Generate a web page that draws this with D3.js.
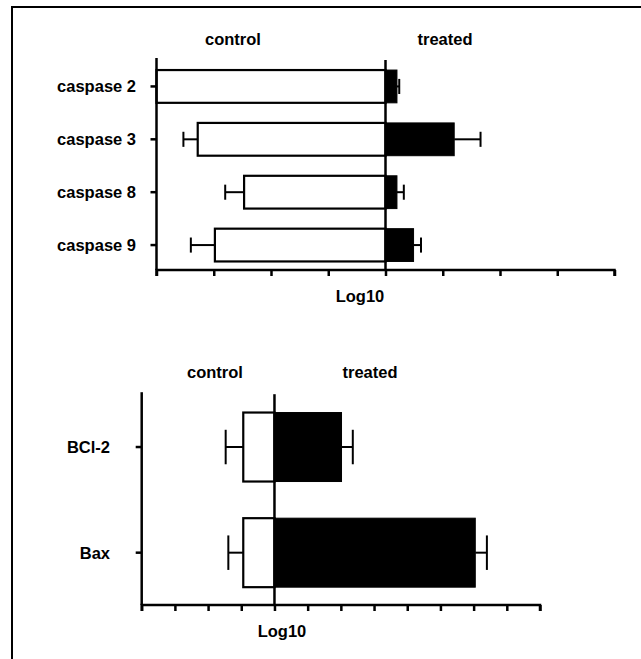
<!DOCTYPE html>
<html>
<head>
<meta charset="utf-8">
<script src="https://cdn.jsdelivr.net/npm/d3@7"></script>
<style>
  html, body { margin: 0; padding: 0; background: #fff; }
  svg { display: block; }
  text { font-family: "Liberation Sans", Arial, Helvetica, sans-serif; font-weight: bold; fill: #000; }
</style>
</head>
<body>
<svg id="chart" width="641" height="659"></svg>
<script>
// ---- Data (log10 fold values) ----
const categoriesTop = ["caspase 2", "caspase 3", "caspase 8", "caspase 9"];
const controlTop = [-4, -3.28, -2.47, -2.98];
const controlTopErr = [0, 0.25, 0.33, 0.42];
const treatedTop = [0.2, 1.2, 0.2, 0.49];
const treatedTopErr = [0.04, 0.46, 0.12, 0.13];
const xTicksTop = [-4, -3, -2, -1, 0, 1, 2, 3, 4];

const categoriesBottom = ["BCl-2", "Bax"];
const controlBottom = [-0.94, -0.94];
const controlBottomErr = [0.53, 0.45];
const treatedBottom = [2.02, 6.05];
const treatedBottomErr = [0.34, 0.35];
const xTicksBottom = [-4, -3, -2, -1, 0, 1, 2, 3, 4, 5, 6, 7, 8];

const groupLabels = ["control", "treated"];
const axisTitle = "Log10";

const svg = d3.select("#chart");

// frame
svg.append("rect")
  .attr("x", 12).attr("y", 7)
  .attr("width", 700).attr("height", 700)
  .attr("fill", "none").attr("stroke", "#000").attr("stroke-width", 2);

function panel(opts) {
  const { cats, ctrl, ctrlErr, trt, trtErr, ticks, xRange, yRange, axisY,
          labelEnd, capFrac, padInner, ctrlLabelX, trtLabelX, groupY, titleX, titleY } = opts;
  const g = svg.append("g");
  const x = d3.scaleLinear().domain([ticks[0], ticks[ticks.length - 1]]).range(xRange);
  const y = d3.scaleBand().domain(cats).range(yRange).paddingInner(padInner).paddingOuter(padInner / 2);
  const bw = y.bandwidth();
  const rows = cats.map((c, i) => ({ c, ctrl: ctrl[i], ce: ctrlErr[i], trt: trt[i], te: trtErr[i] }));

  // error bars (drawn under bars)
  rows.forEach(r => {
    const cy = y(r.c) + bw / 2;
    const capH = bw * capFrac;
    [[r.ctrl, -r.ce], [r.trt, r.te]].forEach(([v, e]) => {
      if (!e) return;
      g.append("line").attr("x1", x(v)).attr("x2", x(v + e)).attr("y1", cy).attr("y2", cy)
        .attr("stroke", "#000").attr("stroke-width", 2);
      g.append("line").attr("x1", x(v + e)).attr("x2", x(v + e)).attr("y1", cy - capH / 2).attr("y2", cy + capH / 2)
        .attr("stroke", "#000").attr("stroke-width", 2);
    });
  });

  // control bars (white)
  g.selectAll(".ctrl").data(rows).join("rect")
    .attr("x", d => x(d.ctrl)).attr("width", d => x(0) - x(d.ctrl))
    .attr("y", d => y(d.c)).attr("height", bw)
    .attr("fill", "#fff").attr("stroke", "#000").attr("stroke-width", 2.2);
  // treated bars (black)
  g.selectAll(".trt").data(rows).join("rect")
    .attr("x", x(0)).attr("width", d => x(d.trt) - x(0))
    .attr("y", d => y(d.c)).attr("height", bw)
    .attr("fill", "#000").attr("stroke", "#000").attr("stroke-width", 1);

  // zero line
  g.append("line").attr("x1", x(0)).attr("x2", x(0)).attr("y1", yRange[0]).attr("y2", axisY)
    .attr("stroke", "#000").attr("stroke-width", 2.5);

  // x axis
  const xa = g.append("g").attr("transform", `translate(0,${axisY})`)
    .call(d3.axisBottom(x).tickValues(ticks).tickSize(6).tickFormat(""));
  xa.select(".domain").attr("stroke-width", 2.5).attr("d", `M${xRange[0]},6V0H${xRange[1]}V6`);
  xa.selectAll(".tick line").attr("stroke-width", 2.5);

  // y axis
  const ya = g.append("g").attr("transform", `translate(${xRange[0]},0)`)
    .call(d3.axisLeft(y).tickSize(6).tickSizeOuter(0).tickFormat(""));
  ya.select(".domain").attr("stroke-width", 2.5).attr("d", `M0,${yRange[0] - 2}V${axisY}`);
  ya.selectAll(".tick line").attr("stroke-width", 2.5);

  // category labels
  g.selectAll(".lab").data(cats).join("text")
    .attr("x", labelEnd).attr("y", d => y(d) + bw / 2)
    .attr("text-anchor", "end").attr("dominant-baseline", "central")
    .attr("font-size", 16.5).text(d => d);

  // group labels
  g.append("text").attr("x", ctrlLabelX).attr("y", groupY).attr("text-anchor", "middle")
    .attr("font-size", 16.5).text(groupLabels[0]);
  g.append("text").attr("x", trtLabelX).attr("y", groupY).attr("text-anchor", "middle")
    .attr("font-size", 16.5).text(groupLabels[1]);
  // axis title
  g.append("text").attr("x", titleX).attr("y", titleY).attr("text-anchor", "middle")
    .attr("font-size", 16.5).text(axisTitle);
}

panel({
  cats: categoriesTop, ctrl: controlTop, ctrlErr: controlTopErr, trt: treatedTop, trtErr: treatedTopErr,
  ticks: xTicksTop, xRange: [156.5, 614.5], yRange: [60, 271.5], axisY: 270,
  labelEnd: 136, capFrac: 0.46, padInner: 0.38,
  ctrlLabelX: 233, trtLabelX: 445, groupY: 45, titleX: 360, titleY: 302
});

panel({
  cats: categoriesBottom, ctrl: controlBottom, ctrlErr: controlBottomErr, trt: treatedBottom, trtErr: treatedBottomErr,
  ticks: xTicksBottom, xRange: [141.7, 540], yRange: [394.2, 605.5], axisY: 605,
  labelEnd: 110, capFrac: 0.5, padInner: 0.347,
  ctrlLabelX: 215, trtLabelX: 370, groupY: 378, titleX: 282, titleY: 637
});
</script>
</body>
</html>
